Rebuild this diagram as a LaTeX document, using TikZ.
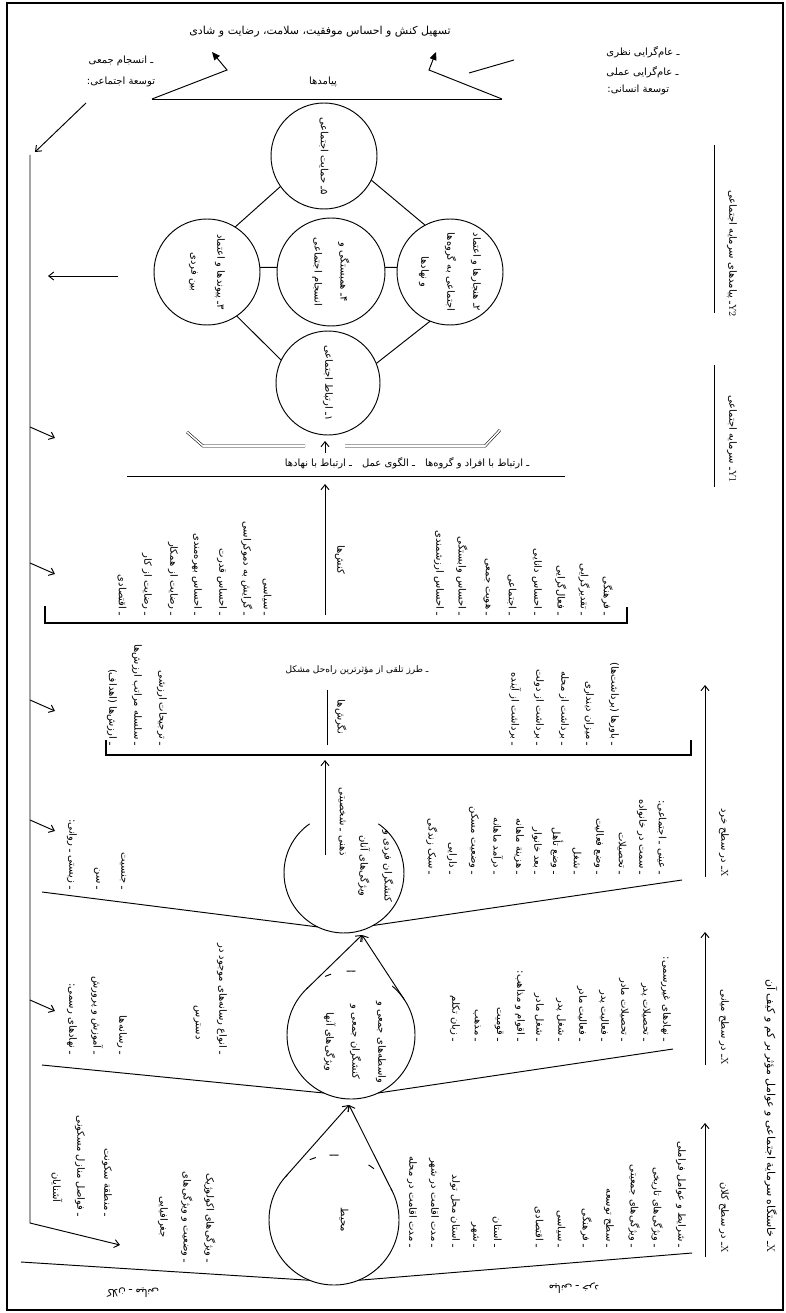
\documentclass[tikz,border=0pt]{standalone}
\usepackage{fontspec}
\usetikzlibrary{arrows.meta,calc}
\newfontfamily\fafont[Script=Arabic]{DejaVu Sans}
\TeXXeTstate=1
\newcommand{\prs}[1]{\beginR#1\endR}
\newcommand{\ltn}[1]{\beginL{\rmfamily #1}\endL}
\begin{document}
\begin{tikzpicture}[x=1pt,y=-1pt,line width=0.95pt,
  arr/.style={-{Straight Barb[length=5pt,width=8pt]}},
  tri/.style={-{Triangle[length=8pt,width=7pt]}},
  li/.style={rotate=-90,anchor=east,inner sep=0pt,font=\fafont\fontsize{10}{12}\selectfont},
  ht/.style={inner sep=0pt,font=\fafont\fontsize{10}{12}\selectfont},
  rc/.style={rotate=-90,inner sep=0pt,align=center,font=\fafont\fontsize{10}{26}\selectfont},
  circ/.style={circle,draw,inner sep=0pt,outer sep=0pt,minimum size=#1},
  hide/.style={draw=white,line width=3pt},
]
\useasboundingbox (0,0) rectangle (786,1313);
\draw[line width=1.2pt] (7,3) rectangle (783,1310);

% ---------- top: outcomes ----------
\node[ht,font=\fafont\fontsize{11}{13}\selectfont] (out) at (320,32) {\prs{تسهیل کنش و احساس موفقیت، سلامت، رضایت و شادی}};
\node[ht] (pay) at (323,82) {\prs{پیامدها}};
\coordinate (p1) at (152,99);
\coordinate (p2) at (502,99);
\draw (p1) -- (p2);
\draw[tri] (p1) -- (227,70) -- (212,52);
\draw[tri] (p2) -- (429,70) -- (436,52);
\draw (469,73) -- (514,60);
\node[ht] (sd1) at (121,61) {\prs{ـ انسجام جمعی}};
\node[ht] (sd2) at (121,82) {\prs{توسعة اجتماعی:}};
\node[ht,anchor=west] (hd1) at (606,52) {\prs{ـ عام‌گرایی نظری}};
\node[ht,anchor=west] (hd2) at (606,72) {\prs{ـ عام‌گرایی عملی}};
\node[ht,anchor=west] (hd3) at (607,90) {\prs{توسعة انسانی:}};

% ---------- feedback line ----------
\coordinate (L0) at (86,103);
\coordinate (L1) at (30,155);
\coordinate (L2) at (30,1223);
\coordinate (L3) at (120,1245);
\draw[arr] (L0) -- (35,152);
\draw[arr] (L1) -- (L2) -- (L3);
\foreach \yy [count=\i] in {427,563,700,820,1000}{
  \coordinate (fa\i) at (30,\yy);
  \coordinate (fb\i) at (55,{\yy+11});
  \draw[arr] (fa\i) -- (fb\i);
}

% ---------- Y headings ----------
\draw (714,145) -- (714,313);
\node[li] (y2) at (732,317) {\prs{\ltn{Y2}ـ پیامدهای سرمایه اجتماعی}};
\draw (714,365) -- (714,487);
\node[li] (y1) at (732,483) {\prs{\ltn{Y1}ـ سرمایه اجتماعی}};

% ---------- Y2 circles ----------
\node[circ=106pt] (c5) at (324,156) {};
\node[circ=106pt] (c3) at (207,272) {};
\node[circ=108pt] (c4) at (331,272) {};
\node[circ=106pt] (c2) at (450,272) {};
\node[circ=104pt] (c1) at (328,383) {};
\node[rc] at (c5) {\prs{۵ـ حمایت اجتماعی}};
\node[rc] at (c3) {\prs{۳ـ پیوندها و اعتماد}\\\prs{بین فردی}};
\node[rc] at (c4) {\prs{۴ـ همبستگی و}\\\prs{انسجام اجتماعی}};
\node[rc] at (c2) {\prs{۲ـ هنجارها و اعتماد}\\\prs{اجتماعی به گروه‌ها}\\\prs{و نهادها}};
\node[rc] at (c1) {\prs{۱ـ ارتباط اجتماعی}};
\draw (c3.5) -- (c4.175);
\draw (c4.5) -- (c2.175);
\draw (c3.58) -- (c5.215);
\draw (c5.-27) -- (c2.118);
\draw (c3.-56) -- (c1.154);
\draw (c2.-112) -- (c1.22);
\coordinate (ya) at (118,276);
\coordinate (yb) at (48,276);
\draw[arr] (ya) -- (yb);

% ---------- Y1 band ----------
\draw[double,double distance=1.6pt,line width=0.55pt] (187,432) -- (203,446) -- (305,446);
\draw[double,double distance=1.6pt,line width=0.55pt] (345,446) -- (485,446) -- (500,430);
\draw[arr] (325,453) -- (325,441);
\node[ht] (rel) at (407,463) {\prs{ـ ارتباط با افراد و گروه‌ها\quad ـ الگوی عمل\quad ـ ارتباط با نهادها}};
\draw (127,476) -- (565,476);
\draw[arr] (325,615) -- (325,484);
\node[rc] (kn) at (340,560) {\prs{کنش‌ها}};

% ---------- actions list ----------
\draw[line width=1.2pt] (45,606) -- (45,623) -- (627,623) -- (627,607);
\foreach \x/\t [count=\i] in {267/ـ سیاسی, 247/ـ گرایش به دموکراسی, 222/ـ احساس قدرت, 197/ـ احساس بهره‌مندی, 173/ـ رضایت از همکار, 147/ـ رضایت از کار, 122/ـ اقتصادی, 607/ـ فرهنگی, 584/ـ تقدیرگرایی, 561/ـ فعال‌گرایی, 537/ـ احساس دانایی, 512/ـ اجتماعی, 487/ـ هویت جمعی, 462/ـ احساس وابستگی, 439/ـ احساس ارزشمندی}
  \node[li] (a\i) at (\x,616) {\prs{\t}};

% ---------- attitudes ----------
\node[ht,font=\fafont\fontsize{9}{11}\selectfont] (tz) at (357,670) {\prs{ـ طرز تلقی از مؤثرترین راه‌حل مشکل}};
\draw (327,745) -- (327,690);
\node[rc] (ng) at (341,717) {\prs{نگرش‌ها}};
\draw[line width=1.2pt] (106,740) -- (106,755) -- (691,755) -- (691,740);
\foreach \x/\t [count=\i] in {162/ـ ترجیحات ارزشی, 137/ـ سلسله مراتب ارزش‌ها, 112/ـ ارزش‌ها (اهداف), 614/ـ باورها (برداشت‌ها), 589/ـ میزان دینداری, 564/ـ برداشت از محله, 539/ـ برداشت از دولت, 515/ـ برداشت از آینده}
  \node[li] (b\i) at (\x,746) {\prs{\t}};
\draw[arr] (325,855) -- (325,760);
\node[rc] (zs) at (342,822) {\prs{ذهنی ـ شخصیتی}};

% ---------- circles of the three levels ----------
\node[circ=130pt] (ec) at (334,1220) {};
\coordinate (eA) at (349,1105);
\coordinate (et1) at (tangent cs:node=ec,point={(eA)},solution=1);
\coordinate (et2) at (tangent cs:node=ec,point={(eA)},solution=2);
\draw[hide] (ec.136) arc[start angle=136,end angle=112,radius=65pt];
\draw[hide] (ec.106) arc[start angle=106,end angle=94,radius=65pt];
\draw[hide] (ec.86) arc[start angle=86,end angle=58,radius=65pt];
\draw[hide] (ec.52) arc[start angle=52,end angle=29,radius=65pt];

\node[circ=128pt] (mc) at (351,1035) {};
\coordinate (mA) at (362,935);
\coordinate (mt1) at (tangent cs:node=mc,point={(mA)},solution=1);
\coordinate (mt2) at (tangent cs:node=mc,point={(mA)},solution=2);
\draw[hide] (mc.132) arc[start angle=132,end angle=114,radius=64pt];
\draw[hide] (mc.108) arc[start angle=108,end angle=94,radius=64pt];
\draw[hide] (mc.86) arc[start angle=86,end angle=50,radius=64pt];

\node[circ=120pt,draw=none] (kc) at (344,873) {};
\draw (kc.55) arc[start angle=55,end angle=-235,radius=60pt];
\draw[arr] (et1) -- (eA);
\draw[arr] (et2) -- (eA);
\draw[arr] (mt1) -- (mA);
\draw[arr] (mt2) -- (mA);

\node[rc,font=\fafont\fontsize{10}{24}\selectfont] (kt) at (376,866) {\prs{کنشگران فردی و}\\\prs{ویژگی‌های آنان}};
\node[rc] (mt) at (355,1042) {\prs{واسطه‌های جمعی و}\\\prs{کنشگران جمعی و}\\\prs{ویژگی‌های آنها}};
\node[rc] (et) at (344,1220) {\prs{محیط}};

% funnels
\draw (42,892) -- (kc.-116);
\draw (682,880) -- (kc.-61);
\draw (42,1065) -- (mc.-115);
\draw (673,1049) -- (mc.-65);
\draw (21,1262) -- (ec.-112);
\draw (692,1253) -- (ec.-68);

% ---------- micro level ----------
\draw[arr] (705,877) -- (705,685);
\node[li] (xk) at (724,877) {\prs{\ltn{X}ـ در سطح خرد}};
\foreach \x/\t [count=\i] in {662/ـ عینی ـ اجتماعی:, 642/ـ سمت در خانواده, 622/ـ تحصیلات, 599/ـ وضع فعالیت, 577/ـ شغل, 557/ـ وضع تأهل, 537/ـ بعد خانوار, 519/ـ هزینة ماهانه, 497/ـ درآمد ماهانه, 474/ـ وضعیت مسکن, 452/ـ دارایی, 432/ـ سبک زندگی}
  \node[li] (k\i) at (\x,875) {\prs{\t}};
\foreach \x/\t [count=\i] in {123/ـ جنسیت, 97/ـ سن, 72/ـ زیستی ـ روانی:}
  \node[li] (kl\i) at (\x,890) {\prs{\t}};

% ---------- meso level ----------
\draw[arr] (705,1065) -- (705,932);
\node[li] (xm) at (724,1065) {\prs{\ltn{X}ـ در سطح میانی}};
\foreach \x/\t [count=\i] in {666/ـ نهادهای غیررسمی:, 646/ـ تحصیلات پدر, 624/ـ تحصیلات مادر, 604/ـ فعالیت پدر, 582/ـ فعالیت مادر, 561/ـ شغل پدر, 539/ـ شغل مادر, 520/ـ اقوام و مذاهب:, 499/ـ قومیت, 477/ـ مذهب, 455/ـ زبان تکلم}
  \node[li] (m\i) at (\x,1042) {\prs{\t}};
\foreach \x/\t [count=\i] in {222/ـ انواع رسانه‌های موجود در, 122/ـ رسانه‌ها, 97/ـ آموزش و پرورش, 72/ـ نهادهای رسمی:}
  \node[li] (ml\i) at (\x,1055) {\prs{\t}};
\node[li] (ml5) at (197,1040) {\prs{دسترس}};

% ---------- macro level ----------
\draw[arr] (705,1257) -- (705,1123);
\node[li] (xc) at (724,1253) {\prs{\ltn{X}ـ در سطح کلان}};
\foreach \x/\t [count=\i] in {681/ـ شرایط و عوامل فراملی, 657/ـ ویژگی‌های تاریخی, 634/ـ ویژگی‌های جمعیتی, 609/ـ سطح توسعه, 586/ـ فرهنگی, 561/ـ سیاسی, 539/ـ اقتصادی, 497/ـ استان, 475/ـ شهر, 455/ـ استان محل تولد, 434/ـ مدت اقامت در شهر, 412/ـ مدت اقامت در محله}
  \node[li] (e\i) at (\x,1248) {\prs{\t}};
\node[li] (el1) at (210,1263) {\prs{ـ ویژگی‌های اکولوژیک}};
\node[li] (el2) at (187,1263) {\prs{ـ وضعیت و ویژگی‌های}};
\node[li] (el3) at (163,1238) {\prs{جغرافیایی}};
\node[li] (el4) at (107,1217) {\prs{ـ منطقة سکونت}};
\node[li] (el5) at (80,1217) {\prs{ـ فواصل منازل مسکونی}};
\node[li] (el6) at (57,1203) {\prs{آشنایان}};

% bottom small labels (upside down)
\node[ht,rotate=180,font=\fafont\fontsize{10.5}{12}\selectfont] (bl) at (133,1293) {\prs{کلان ـ میانی}};
\node[ht,rotate=180,font=\fafont\fontsize{10.5}{12}\selectfont] (br) at (574,1288) {\prs{میانی ـ خرد}};

% ---------- title ----------
\node[li,font=\fafont\fontsize{11}{13}\selectfont] (title) at (771,1253) {\prs{\ltn{X}ـ خاستگاه سرمایة اجتماعی و عوامل مؤثر بر کم و کیف آن}};
\end{tikzpicture}
\end{document}
